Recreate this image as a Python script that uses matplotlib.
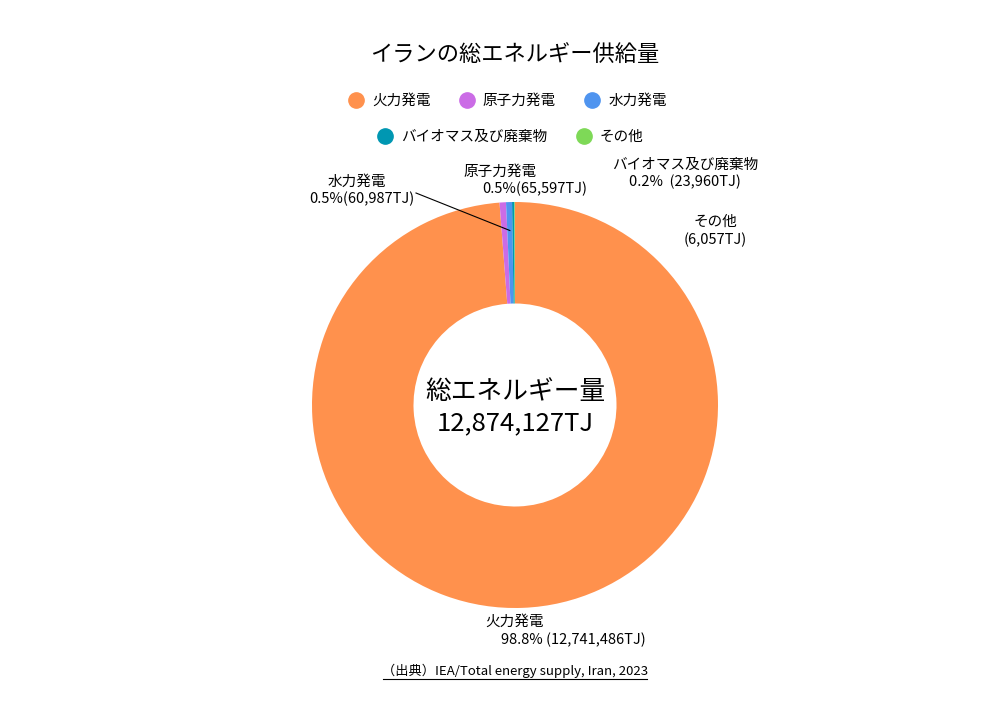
import numpy as np
import matplotlib
matplotlib.use("Agg")
from matplotlib import pyplot as plt
from matplotlib.lines import Line2D

plt.rcParams['font.family'] = ['Noto Sans CJK JP', 'DejaVu Sans']

labels = ['火力発電', '原子力発電', '水力発電', 'バイオマス及び廃棄物', 'その他']
values = [12741486, 65597, 60987, 23960, 6057]
colors = ['#FF914D', '#CB6CE6', '#4F94EF', '#0097B2', '#7ED957']
total_text = '12,874,127TJ'

fig = plt.figure(figsize=(10, 7.07), dpi=100)
ax = fig.add_axes([0, 0, 1, 1])

cx, cy, R = 515, 707 - 405, 203
wedges, _ = ax.pie(values, colors=colors, startangle=90, counterclock=False,
                   radius=R, center=(cx, cy), frame=True,
                   wedgeprops=dict(width=R * 0.5, linewidth=0))
ax.set_xlim(0, 1000)
ax.set_ylim(0, 707)
ax.set_aspect('equal')
ax.axis('off')

# titles
fig.text(0.515, 1 - 55 / 707, 'イランの総エネルギー供給量', ha='center', va='center', fontsize=16)
ax.text(cx, 707 - 392, '総エネルギー量', ha='center', va='center', fontsize=18.5)
ax.text(cx, 707 - 423, total_text, ha='center', va='center', fontsize=18.5)

# legend
def handle(c):
    return Line2D([], [], marker='o', color='none', markerfacecolor=c,
                  markeredgecolor=c, markersize=11)

fig.legend([handle(c) for c in colors[:3]], labels[:3], ncol=3,
           loc='center', bbox_to_anchor=(0.507, 1 - 101 / 707), frameon=False,
           fontsize=10.5, handletextpad=0.5, columnspacing=1.9, handlelength=1.2)
fig.legend([handle(c) for c in colors[3:]], labels[3:], ncol=2,
           loc='center', bbox_to_anchor=(0.510, 1 - 137 / 707), frameon=False,
           fontsize=10.5, handletextpad=0.5, columnspacing=1.9, handlelength=1.2)

# slice labels
fs = 10.5
pct = [v / sum(values) * 100 for v in values]
ax.text(357, 707 - 182, labels[2], ha='center', va='center', fontsize=fs)
ax.text(362, 707 - 199, f'{pct[2]:.1f}%(60,987TJ)', ha='center', va='center', fontsize=fs)
ax.text(500, 707 - 172, labels[1], ha='center', va='center', fontsize=fs)
ax.text(535, 707 - 189, f'{pct[1]:.1f}%(65,597TJ)', ha='center', va='center', fontsize=fs)
ax.text(685, 707 - 165, labels[3], ha='center', va='center', fontsize=fs)
ax.text(685, 707 - 182, f'{pct[3]:.1f}%  (23,960TJ)', ha='center', va='center', fontsize=fs)
ax.text(715, 707 - 222, labels[4], ha='center', va='center', fontsize=fs)
ax.text(715, 707 - 240, '(6,057TJ)', ha='center', va='center', fontsize=fs)
ax.text(515, 707 - 622, labels[0], ha='center', va='center', fontsize=fs)
ax.text(573, 707 - 640, f'{pct[0]:.1f}% (12,741,486TJ)', ha='center', va='center', fontsize=fs)

# leader line for hydro
w = wedges[2]
ang = np.deg2rad((w.theta1 + w.theta2) / 2)
px, py = cx + 0.86 * R * np.cos(ang), cy + 0.86 * R * np.sin(ang)
ax.plot([416, px], [707 - 193, py], color='black', linewidth=0.8)

# source
ax.text(515, 707 - 671, '（出典）IEA/Total energy supply, Iran, 2023', ha='center', va='center', fontsize=9.5)
ax.plot([383, 647], [707 - 679, 707 - 679], color='black', linewidth=0.8)

fig.savefig('out.png', dpi=100)
